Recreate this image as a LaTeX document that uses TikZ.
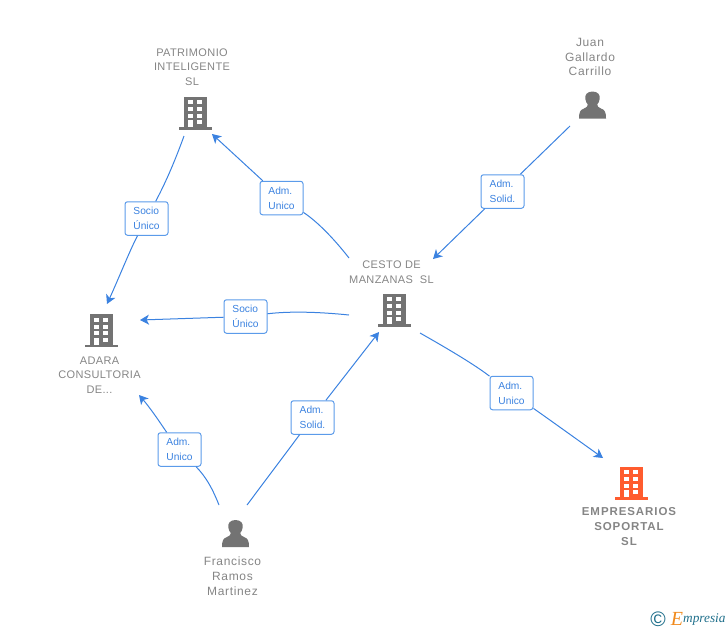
\documentclass[tikz,border=0pt]{standalone}
\usepackage{fontspec}
\setmainfont{Liberation Sans}
\newfontfamily\logofont{Liberation Serif}
\newfontfamily\spacedfont[LetterSpace=3.5]{Liberation Sans}
\newfontfamily\personfont[LetterSpace=5.5]{Liberation Sans}
\newfontfamily\boldspaced[LetterSpace=8,BoldFont={Liberation Sans Bold}]{Liberation Sans}
\usetikzlibrary{arrows.meta}
\definecolor{txtgray}{HTML}{858585}
\definecolor{icongray}{HTML}{737373}
\definecolor{linkblue}{HTML}{3B82E0}
\definecolor{boxblue}{HTML}{5B9BEA}
\definecolor{hot}{HTML}{FF5C2E}
\definecolor{logoteal}{HTML}{1F6F8B}
\definecolor{logoorange}{HTML}{F08A1D}
\tikzset{
  x=1pt,y=-1pt,
  rel/.style={draw=boxblue,line width=1pt,rounded corners=2.5pt,fill=white,minimum width=43pt,minimum height=33.5pt,inner sep=0pt,align=left,text=linkblue,font=\fontsize{10.2}{15}\selectfont},
  name label/.style={align=center,text=txtgray,inner sep=0pt,font=\spacedfont\fontsize{11}{14.7}\selectfont},
  person label/.style={align=center,text=txtgray,inner sep=0pt,font=\personfont\fontsize{12}{14.7}\selectfont},
  bold label/.style={align=center,text=txtgray,inner sep=0pt,font=\boldspaced\bfseries\fontsize{11.5}{15}\selectfont},
  link/.style={draw=linkblue,line width=1pt},
  tip/.style={link,-{Stealth[length=9pt,width=10pt,inset=2.5pt]}},
  icon/.style={minimum size=32pt,inner sep=0pt},
  pics/building/.style={code={
    \fill[#1] (-11.5,-16.5) rectangle (11.5,16);
    \fill[#1] (-16.5,14) rectangle (16.5,16.5);
    \foreach \yy in {-13,-6,0.5}{
      \fill[white] (-7,\yy) rectangle (-2.2,\yy+4.3);
      \fill[white] (2.2,\yy) rectangle (7,\yy+4.3);
    }
    \fill[white] (-7,7) rectangle (-2.2,14);
    \fill[white] (2.2,7) rectangle (7,11.3);
  }},
  pics/person/.style={code={
    \fill[icongray] (0,-13.5) .. controls (-5.5,-13.5) and (-7.8,-10) .. (-7.2,-6)
      .. controls (-6.8,-3.5) and (-5.7,-1.5) .. (-4.7,-0.5)
      .. controls (-4.7,1.5) and (-6,2.5) .. (-8.5,3.5)
      .. controls (-12,4.8) and (-13.5,6.5) .. (-13.5,13.5)
      -- (13.5,13.5)
      .. controls (13.5,6.5) and (12,4.8) .. (8.5,3.5)
      .. controls (6,2.5) and (4.7,1.5) .. (4.7,-0.5)
      .. controls (5.7,-1.5) and (6.8,-3.5) .. (7.2,-6)
      .. controls (7.8,-10) and (5.5,-13.5) .. (0,-13.5) -- cycle;
  }}
}
\begin{document}
\begin{tikzpicture}
\useasboundingbox (0,0) rectangle (728,630);
% icons
\node[icon] (patrimonio) at (195,113) {};
\pic at (patrimonio) {building=icongray};
\node[icon] (adara) at (101,330.500) {};
\pic at (adara) {building=icongray};
\node[icon] (cesto) at (394,310) {};
\pic at (cesto) {building=icongray};
\node[icon] (soportal) at (631,483) {};
\pic at (soportal) {building=hot};
\node[icon] (juan) at (592.500,105) {};
\pic at (juan) {person};
\node[icon] (francisco) at (235.500,533.500) {};
\pic at (francisco) {person};
% names
\node[name label] (tp) at (192,67) {PATRIMONIO\\INTELIGENTE\\SL};
\node[name label] (ta) at (99.500,375) {ADARA\\CONSULTORIA\\DE...};
\node[name label] (tc) at (391.500,272) {CESTO DE\\MANZANAS\ \ SL};
\node[bold label] (ts) at (629,527) {EMPRESARIOS\\SOPORTAL\\SL};
\node[person label] (tj) at (590,57) {Juan\\Gallardo\\Carrillo};
\node[person label] (tf) at (232.500,576) {Francisco\\Ramos\\Martinez};
% relation boxes
\node[rel] (r1) at (146.500,218.500) {Socio\\Único};
\node[rel] (r2) at (281.500,198) {Adm.\\Unico};
\node[rel] (r3) at (502.500,191.500) {Adm.\\Solid.};
\node[rel] (r4) at (245.500,316.500) {Socio\\Único};
\node[rel] (r5) at (312.500,417.500) {Adm.\\Solid.};
\node[rel] (r6) at (179.500,449.500) {Adm.\\Unico};
\node[rel] (r7) at (511.500,393) {Adm.\\Unico};
% free ends
\coordinate (a1) at (184,136);
\coordinate (b1) at (107,304);
\coordinate (a2) at (349,258);
\coordinate (b2) at (212,134);
\coordinate (a3) at (570,126);
\coordinate (b3) at (433,259);
\coordinate (a4) at (349,315);
\coordinate (b4) at (140,320);
\coordinate (a5) at (420,333);
\coordinate (b5) at (603,458);
\coordinate (a6) at (219,505);
\coordinate (b6) at (139,395);
\coordinate (a7) at (247,505);
\coordinate (b7) at (379,332);
% connectors
\draw[link] (a1) .. controls (176,158) and (167,180) .. (r1);
\draw[tip] (r1) .. controls (130,250) and (118,280) .. (b1);
\draw[link] (a2) .. controls (335,240) and (318,222) .. (r2);
\draw[tip] (r2) -- (b2);
\draw[link] (a3) -- (r3);
\draw[tip] (r3) -- (b3);
\draw[link] (a4) .. controls (320,312) and (290,311) .. (r4);
\draw[tip] (r4) .. controls (200,318) and (170,319) .. (b4);
\draw[link] (a5) .. controls (450,350) and (475,365) .. (r7);
\draw[tip] (r7) .. controls (550,420) and (575,438) .. (b5);
\draw[link] (a6) .. controls (213,490) and (207,478) .. (r6);
\draw[tip] (r6) .. controls (165,430) and (152,410) .. (b6);
\draw[link] (a7) -- (r5);
\draw[tip] (r5) -- (b7);
% logo
\node[inner sep=0pt,text=logoteal,font=\fontsize{21}{21}\selectfont] (lc) at (658,619) {©};
\node[inner sep=0pt,text=logoorange,font=\logofont\itshape\fontsize{20}{20}\selectfont] (le) at (677,619) {E};
\node[inner sep=0pt,anchor=west,text=logoteal,font=\logofont\itshape\fontsize{13.3}{14}\selectfont] (lm) at (683,620) {mpresia};
\end{tikzpicture}
\end{document}
